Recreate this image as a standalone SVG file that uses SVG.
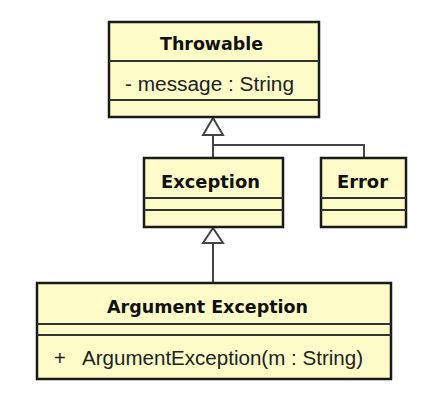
<svg xmlns="http://www.w3.org/2000/svg" width="439" height="400" viewBox="0 0 439 400">
<defs>
<style>
.box{fill:#fdfcc9;stroke:#1a1a1a;stroke-width:2.5}
.div{stroke:#333;stroke-width:2;fill:none}
.t{font-family:"DejaVu Sans","Liberation Sans",sans-serif;font-weight:bold;font-size:17px;fill:#111}
.r{font-family:"Liberation Sans",Arial,sans-serif;font-size:20px;fill:#222}
.c{stroke:#444;stroke-width:2;fill:none}
.tri{fill:#fff;stroke:#444;stroke-width:2}
</style>
</defs>
<rect width="439" height="400" fill="#fff"/>
<g id="connectors">
<polyline class="c" points="213,135 213,158"/>
<polyline class="c" points="213,145 364,145 364,158"/>
<polygon class="tri" points="213,118 203,135 223,135"/>
<polyline class="c" points="213,243 213,283"/>
<polygon class="tri" points="213,228 203,243 223,243"/>
</g>
<g id="throwable">
<rect class="box" x="109" y="22" width="210" height="95"/>
<line class="div" x1="109" y1="61" x2="319" y2="61"/>
<line class="div" x1="109" y1="100" x2="319" y2="100"/>
<text class="t" x="160" y="50" textLength="103" lengthAdjust="spacingAndGlyphs">Throwable</text>
<text class="r" x="125" y="91" textLength="169" lengthAdjust="spacingAndGlyphs">- message : String</text>
</g>
<g id="exception">
<rect class="box" x="144" y="158" width="139" height="69"/>
<line class="div" x1="144" y1="198" x2="283" y2="198"/>
<line class="div" x1="144" y1="210" x2="283" y2="210"/>
<text class="t" x="161" y="188" textLength="99" lengthAdjust="spacingAndGlyphs">Exception</text>
</g>
<g id="error">
<rect class="box" x="321" y="158" width="85" height="69"/>
<line class="div" x1="321" y1="198" x2="406" y2="198"/>
<line class="div" x1="321" y1="210" x2="406" y2="210"/>
<text class="t" x="337" y="188" textLength="51" lengthAdjust="spacingAndGlyphs">Error</text>
</g>
<g id="argument-exception">
<rect class="box" x="37" y="283" width="354" height="96"/>
<line class="div" x1="37" y1="324" x2="391" y2="324"/>
<line class="div" x1="37" y1="335" x2="391" y2="335"/>
<text class="t" x="107" y="313" textLength="201" lengthAdjust="spacingAndGlyphs">Argument Exception</text>
<text class="r" x="54" y="365">+</text>
<text class="r" x="82" y="365" textLength="281" lengthAdjust="spacingAndGlyphs">ArgumentException(m : String)</text>
</g>
</svg>
